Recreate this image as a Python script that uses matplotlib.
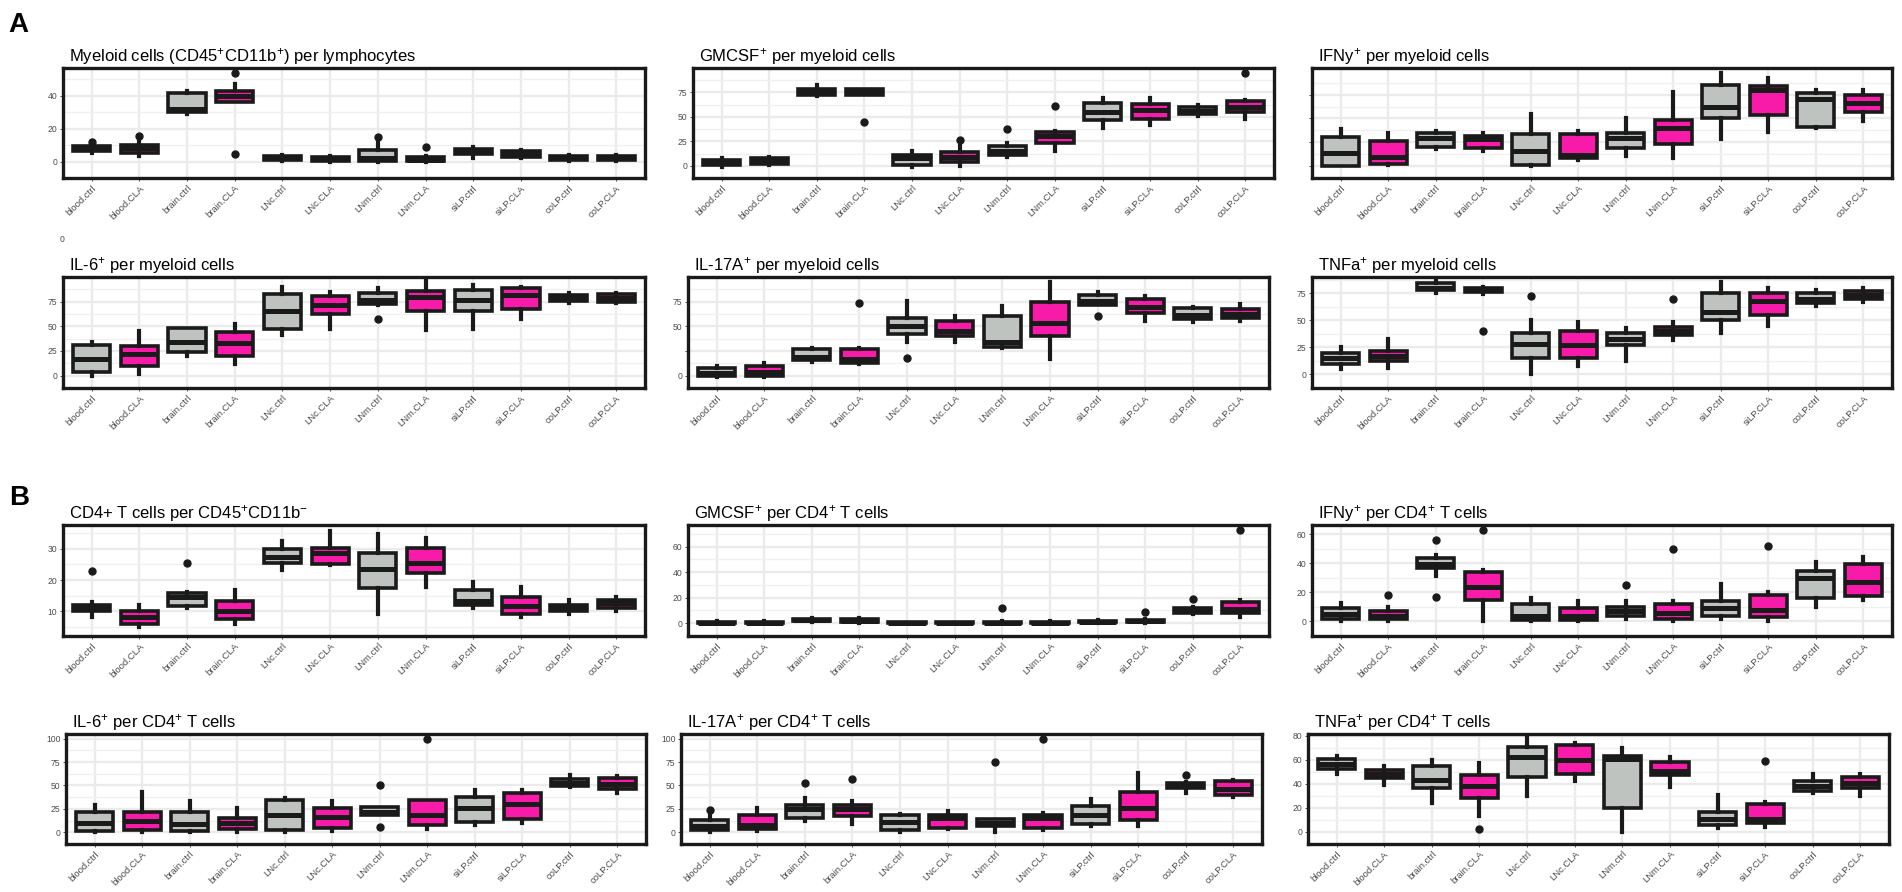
import matplotlib
matplotlib.use('Agg')
import matplotlib.pyplot as plt
import numpy as np

plt.rcParams['font.family'] = ['Liberation Sans', 'DejaVu Sans']
plt.rcParams['mathtext.fontset'] = 'custom'
plt.rcParams['mathtext.rm'] = 'Liberation Sans'
plt.rcParams['mathtext.default'] = 'regular'

categories = ['blood.ctrl', 'blood.CLA', 'brain.ctrl', 'brain.CLA', 'LNc.ctrl', 'LNc.CLA',
              'LNm.ctrl', 'LNm.CLA', 'siLP.ctrl', 'siLP.CLA', 'coLP.ctrl', 'coLP.CLA']

# box stats per category: (whisker low, q1, median, q3, whisker high)
myeloid_box = [(5.2, 6.4, 8, 9.6, 12.7), (3.4, 5.5, 8, 10, 14.5), (29, 30, 32, 42, 43),
               (36, 36.2, 40, 42.7, 47.5), (0.5, 0.7, 2, 3.4, 4), (0, 0.2, 1.5, 2.9, 3.7),
               (0, 0.3, 2, 7, 11.8), (0, 0.2, 1, 2.9, 3.5), (2.3, 4.6, 6.3, 7.7, 9),
               (2.3, 2.9, 5, 6.4, 7.3), (0.5, 0.7, 2.3, 3.7, 4), (0.5, 0.7, 2.3, 3.7, 4)]
myeloid_out = [[12], [15.7], [], [54, 4.6], [], [], [15.2], [9.1], [], [], [], []]

gmcsf_my_box = [(-1, 0.6, 2.5, 5.4, 7.6), (1.3, 2.2, 5, 8.2, 9), (71.8, 72.5, 75, 78.8, 82.6),
                (72, 72.5, 75.5, 78.8, 79), (-1, 0.6, 8, 11.4, 15.5), (0, 3.8, 9, 13.9, 20),
                (8.5, 11.4, 15.5, 20, 23), (15.5, 23.4, 30.4, 35, 36), (39, 46.5, 55, 64, 69),
                (42, 48, 57, 63, 69), (51, 52.8, 56, 60.4, 62), (47.8, 55, 60, 66, 67)]
gmcsf_my_out = [[], [], [], [45], [], [26], [38], [61], [], [], [], [94.6]]

ifny_my_box = [(0, 0, 5.5, 12.2, 15.5), (0.3, 0.9, 4, 10.6, 14), (7.2, 7.9, 12, 14.1, 14.8),
               (6.2, 7.8, 11.5, 12.5, 13.9), (0, 0.3, 6.2, 13.5, 22), (2.6, 3.2, 4.5, 13.5, 14.8),
               (4.2, 7.5, 11.9, 13.7, 20.3), (3.3, 9.2, 16, 19.4, 31), (11.2, 20.3, 25, 34, 39),
               (14.4, 21.4, 32, 33.7, 37), (16.2, 16.5, 28, 30.6, 32), (19, 22.7, 26.7, 30, 32)]
ifny_my_out = [[], [], [], [], [], [], [], [], [], [], [], []]

il6_my_box = [(0, 4, 17, 31.3, 33.9), (2, 10, 22, 30, 45), (20, 24, 34, 48, 48.5),
              (12, 20, 33, 44, 52), (41, 47, 66, 83, 90), (47, 63, 72, 81, 85),
              (72, 72.6, 76.7, 84, 89), (46.6, 65.6, 80, 86, 95.8), (47, 65.6, 77, 87, 91.7),
              (57, 67.8, 82, 88.5, 90), (73.6, 75.8, 79, 82, 84), (74, 75, 79, 82.5, 83.5)]
il6_my_out = [[], [], [], [], [], [], [57], [], [], [], [], []]

il17_my_box = [(-1, 0, 3.2, 7.7, 10), (-1, 0, 3.8, 9.6, 12.8), (14, 16, 19.2, 27, 28.5),
               (12, 12.8, 17.3, 27, 28), (34.3, 42, 50, 58.3, 76), (34.3, 40.7, 45, 55, 60.6),
               (28, 29.5, 34, 60, 71), (16.7, 40.7, 53, 75, 95), (72, 72, 76, 81.7, 84.6),
               (55.8, 64, 69.5, 78, 80.8), (54.5, 57.4, 61.5, 68.6, 69.5), (55.8, 58.3, 63, 67.3, 72.8)]
il17_my_out = [[], [], [], [73.7], [18.3], [], [], [], [60], [], [], []]

tnfa_my_box = [(5, 10, 15, 20, 25), (6, 12, 17, 22, 33), (75, 78, 80, 84, 87),
               (74, 76, 78, 80, 81), (0, 15, 28, 38, 50), (8, 15, 27, 40, 48),
               (12, 27, 33, 38, 43), (32, 36, 40, 44, 48), (38, 50, 58, 75, 85),
               (45, 55, 68, 75, 80), (63, 66, 70, 75, 78), (67, 70, 73, 77, 80)]
tnfa_my_out = [[], [], [], [40], [72], [], [], [70], [], [], [], []]

cd4_box = [(8, 10, 11, 12, 13), (5, 6, 8, 10, 12), (11, 11.7, 14.6, 15.7, 16),
           (6, 7.5, 10, 13.3, 16.8), (23.2, 25.4, 27.5, 29.9, 32.7), (24.8, 25.2, 28.6, 30.4, 35.9),
           (9, 17.3, 23.4, 28.6, 34.8), (17.8, 22.2, 25.5, 30.2, 33.4), (11, 12, 13.3, 16.8, 19.5),
           (8, 9, 11.5, 14.4, 17.8), (9, 10, 11, 12, 13.5), (10, 11, 12.5, 13.5, 14.5)]
cd4_out = [[23], [], [25.6], [], [], [], [], [], [], [], [], []]

gmcsf_cd4_box = [(0, 0, 0.5, 1, 1.5), (0, 0, 0.5, 1, 1.5), (1, 1.5, 2.5, 3.5, 4.5),
                 (0.5, 1, 2, 3, 4), (0, 0, 0.3, 0.8, 1.2), (0, 0, 0.3, 0.8, 1.2),
                 (0, 0, 0.5, 1.2, 2), (0, 0, 0.4, 0.9, 1.5), (0.5, 0.8, 1.2, 1.8, 2.5),
                 (0.5, 1, 1.5, 2.5, 3.5), (7, 8, 10, 12, 13), (5, 8, 11, 17, 18)]
gmcsf_cd4_out = [[], [], [], [], [], [], [12], [], [], [9], [19.3], [72.8]]

ifny_cd4_box = [(0, 2, 5, 9, 13), (0, 2, 4, 7, 10), (31.4, 36.6, 39.4, 43.6, 45.7),
                (0, 15, 24, 33.7, 35.6), (0, 1, 4, 12, 16), (0, 1, 4, 9, 14),
                (2, 4, 7, 10, 14), (0, 2, 6, 12, 14), (2, 4, 9, 14, 26),
                (0, 3, 8, 18, 20), (10, 16.2, 30, 35, 41), (15, 17.3, 27, 39.4, 44.6)]
ifny_cd4_out = [[], [17.9], [55.8, 16.8], [63], [], [], [25], [50], [], [52], [], []]

il6_cd4_box = [(0, 1.3, 10, 21.5, 29.5), (0, 2, 12, 22, 43), (0, 1.3, 8.7, 22, 33),
               (0.5, 3.7, 10.4, 15.4, 25.5), (0, 2.7, 18.8, 34, 37), (1.3, 4.7, 16, 26, 33),
               (18, 18, 22, 26.5, 26.5), (3.7, 7.4, 18, 34, 34), (8, 11.4, 26, 38, 45.6),
               (9.4, 13.8, 30.5, 41.6, 45.6), (48, 49, 52.3, 56.7, 61.7), (42.3, 46.6, 52, 58, 59.7)]
il6_cd4_out = [[], [], [], [], [], [], [50, 6], [100], [], [], [], []]

il17_cd4_box = [(0, 2, 7, 12.8, 17), (1, 3.7, 8, 18, 25.5), (12, 15.4, 24.8, 28.9, 37),
                (8.7, 17, 24.8, 28.9, 33), (0, 2, 11.4, 18.8, 19.8), (3.4, 4.4, 15.4, 18.8, 23),
                (0, 6.4, 10.4, 13.8, 14.4), (2, 4.7, 15.4, 18, 20.5), (7, 8.7, 18.8, 28, 35.6),
                (7, 12.8, 25.5, 43, 63), (42.3, 47.3, 49.7, 52.3, 54), (38, 39.6, 46.3, 54.7, 55.7)]
il17_cd4_out = [[23.8], [], [53], [57.4], [], [], [75.2], [100], [], [], [61.4], []]

tnfa_cd4_box = [(48, 52, 56.4, 60.5, 63.6), (39, 44.7, 48, 51.4, 54.5), (24, 36.4, 43.4, 54.5, 59.7),
                (13, 28, 38, 47.3, 57), (30, 46, 62.3, 71, 78), (42.8, 48.6, 59.7, 72.7, 74),
                (0, 20, 60.5, 63, 70), (37.7, 47.3, 50.6, 58.4, 62.3), (3, 5.7, 11, 16.9, 30.4),
                (3.9, 7.3, 10.4, 23.4, 24.7), (32.5, 34.3, 38.2, 42, 48), (30, 36.9, 40.8, 45.5, 48)]
tnfa_cd4_out = [[], [], [], [2.6], [], [], [], [], [], [59.2], [], []]

GREY = '#BEC3C0'
PINK = '#F81BAA'
INK = '#1a1a1a'
W, H = 1902, 892


def px_axes(fig, left, right, top, bottom):
    return fig.add_axes([left / W, 1 - bottom / H, (right - left) / W, (bottom - top) / H])


def draw_panel(ax, boxes, outs, title, yticks, ylim, ylabels=None):
    stats = []
    for b, o in zip(boxes, outs):
        stats.append({'whislo': b[0], 'q1': b[1], 'med': b[2], 'q3': b[3],
                      'whishi': b[4], 'fliers': o})
    x = np.arange(1, len(categories) + 1)
    res = ax.bxp(stats, positions=x, widths=0.78, patch_artist=True, showcaps=False,
                 boxprops=dict(edgecolor=INK, linewidth=2.6),
                 medianprops=dict(color=INK, linewidth=3.6, solid_capstyle='butt'),
                 whiskerprops=dict(color=INK, linewidth=3.0),
                 flierprops=dict(marker='o', markerfacecolor=INK, markeredgecolor=INK,
                                 markersize=5))
    for i, patch in enumerate(res['boxes']):
        patch.set_facecolor(GREY if categories[i].endswith('ctrl') else PINK)
    ax.set_xlim(0.4, len(categories) + 0.6)
    ax.set_ylim(*ylim)
    ax.set_xticks(x)
    ax.set_xticklabels(categories, rotation=45, ha='right', rotation_mode='anchor',
                       fontsize=6.8)
    ax.set_yticks(yticks)
    if ylabels is not None:
        ax.set_yticklabels(ylabels)
    step = yticks[1] - yticks[0]
    minors = np.arange(yticks[0] - step / 2, ylim[1], step)
    ax.set_yticks(minors, minor=True)
    ax.grid(True, which='major', color='#EBEBEB', linewidth=1.7)
    ax.grid(True, which='minor', axis='y', color='#F0F0F0', linewidth=1.0)
    ax.set_axisbelow(True)
    for s in ax.spines.values():
        s.set_linewidth(2.4)
        s.set_color(INK)
    ax.tick_params(axis='both', which='major', direction='out', length=2.5, width=0.6,
                   color='#333333', labelsize=6.2, labelcolor='#4D4D4D', pad=1.5)
    ax.tick_params(axis='x', labelsize=6.8)
    ax.tick_params(axis='y', which='minor', length=0)
    ax.annotate(title, xy=(0, 1), xycoords='axes fraction', xytext=(6, 7),
                textcoords='offset pixels', fontsize=12, ha='left', va='baseline')


fig = plt.figure(figsize=(W / 100, H / 100), dpi=100)

rows = [(68, 178), (277, 388), (525, 636), (734, 844)]
cols = [[(63, 645), (693, 1274), (1312, 1892)],
        [(63, 645), (688, 1269), (1312, 1892)],
        [(63, 645), (688, 1269), (1312, 1892)],
        [(66, 646), (681, 1262), (1308, 1889)]]

panels = [
    (myeloid_box, myeloid_out, 'Myeloid cells (CD45$^{+}$CD11b$^{+}$) per lymphocytes',
     [0, 20, 40], (-2.5, 57), None),
    (gmcsf_my_box, gmcsf_my_out, 'GMCSF$^{+}$ per myeloid cells',
     [0, 25, 50, 75], (-4, 100), None),
    (ifny_my_box, ifny_my_out, 'IFNy$^{+}$ per myeloid cells',
     [0, 10, 20, 30], (-2.6, 41.2), ['', '', '', '']),
    (il6_my_box, il6_my_out, 'IL-6$^{+}$ per myeloid cells',
     [0, 25, 50, 75], (-5.5, 100), None),
    (il17_my_box, il17_my_out, 'IL-17A$^{+}$ per myeloid cells',
     [0, 25, 50, 75], (-6, 100), ['0', '', '50', '75']),
    (tnfa_my_box, tnfa_my_out, 'TNFa$^{+}$ per myeloid cells',
     [0, 25, 50, 75], (-4.5, 90), None),
    (cd4_box, cd4_out, 'CD4+ T cells per CD45$^{+}$CD11b$^{-}$',
     [10, 20, 30], (2, 37.7), None),
    (gmcsf_cd4_box, gmcsf_cd4_out, 'GMCSF$^{+}$ per CD4$^{+}$ T cells',
     [0, 20, 40, 60], (-4.4, 77), None),
    (ifny_cd4_box, ifny_cd4_out, 'IFNy$^{+}$ per CD4$^{+}$ T cells',
     [0, 20, 40, 60], (-3.2, 66.3), None),
    (il6_cd4_box, il6_cd4_out, 'IL-6$^{+}$ per CD4$^{+}$ T cells',
     [0, 25, 50, 75, 100], (-5, 105), None),
    (il17_cd4_box, il17_cd4_out, 'IL-17A$^{+}$ per CD4$^{+}$ T cells',
     [0, 25, 50, 75, 100], (-5, 105), None),
    (tnfa_cd4_box, tnfa_cd4_out, 'TNFa$^{+}$ per CD4$^{+}$ T cells',
     [0, 20, 40, 60, 80], (-4.7, 81.5), None),
]

for k, p in enumerate(panels):
    r, c = divmod(k, 3)
    top, bottom = rows[r]
    left, right = cols[r][c]
    ax = px_axes(fig, left, right, top, bottom)
    draw_panel(ax, *p)

fig.text(8 / W, 1 - 12 / H, 'A', fontsize=20, fontweight='bold', ha='left', va='top')
fig.text(9 / W, 1 - 485 / H, 'B', fontsize=20, fontweight='bold', ha='left', va='top')
fig.text(60 / W, 1 - 239 / H, '0', fontsize=6.2, color='#4D4D4D', ha='left', va='center')

fig.savefig('out.png', dpi=100, facecolor='white')
